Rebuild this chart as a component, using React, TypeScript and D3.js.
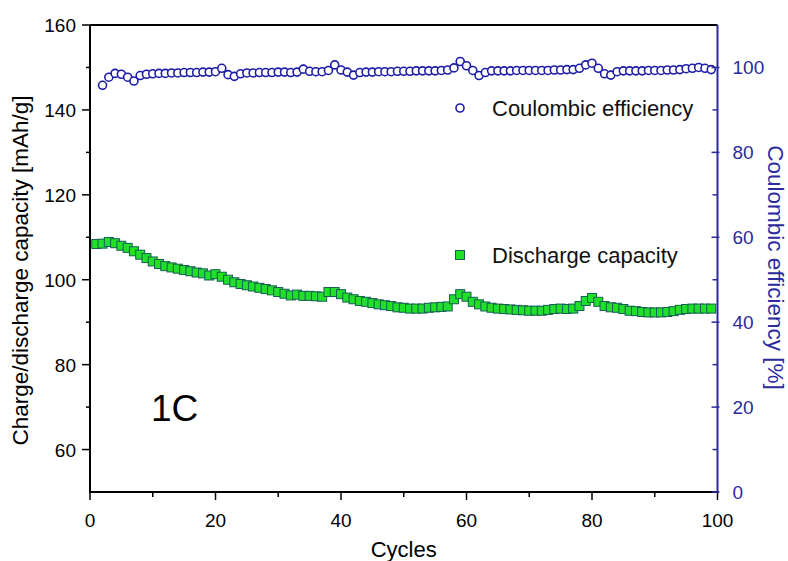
import React from "react";
import * as d3 from "d3";

// Discharge capacity (mAh/g) for cycles 1..99
const capacity: number[] = [
  108.4, 108.5, 108.9, 108.6, 108.0, 107.5, 106.7, 105.9, 105.1, 104.3,
  103.7, 103.2, 102.9, 102.6, 102.3, 102.0, 101.7, 101.5, 101.0, 101.3,
  100.7, 100.0, 99.4, 99.0, 98.7, 98.4, 98.1, 97.8, 97.5, 97.1,
  96.7, 96.3, 96.5, 96.2, 96.2, 96.1, 96.0, 97.1, 97.1, 96.6,
  95.8, 95.4, 95.0, 94.8, 94.5, 94.2, 94.0, 93.8, 93.5, 93.4,
  93.2, 93.2, 93.2, 93.4, 93.5, 93.6, 93.7, 95.4, 96.6, 96.0,
  94.8, 94.2, 93.7, 93.4, 93.2, 93.1, 93.0, 92.9, 92.8, 92.7,
  92.7, 92.7, 92.9, 93.1, 93.2, 93.1, 93.2, 93.8, 95.0, 95.7,
  94.8, 93.8, 93.5, 93.4, 93.1, 92.7, 92.6, 92.4, 92.3, 92.3,
  92.3, 92.4, 92.6, 92.9, 93.1, 93.2, 93.2, 93.2, 93.2,
];

// Coulombic efficiency (%) for cycles 2..99
const efficiency: number[] = [
  95.8, 97.7, 98.6, 98.4, 97.7, 96.8, 98.1, 98.4, 98.5,
  98.6, 98.6, 98.7, 98.7, 98.8, 98.8, 98.8, 98.9, 98.9, 99.0,
  99.8, 98.3, 97.9, 98.5, 98.7, 98.7, 98.8, 98.8, 98.8, 98.9,
  98.9, 98.8, 98.9, 99.6, 99.1, 99.0, 99.0, 99.3, 100.6, 99.4,
  98.9, 98.2, 98.8, 98.9, 98.9, 99.0, 99.0, 99.0, 99.1, 99.1,
  99.1, 99.2, 99.2, 99.2, 99.2, 99.3, 99.4, 99.9, 101.4, 100.4,
  99.3, 98.1, 98.8, 99.2, 99.2, 99.2, 99.2, 99.3, 99.3, 99.3,
  99.3, 99.3, 99.3, 99.4, 99.4, 99.5, 99.5, 99.8, 100.6, 101.0,
  99.8, 98.5, 98.2, 99.0, 99.2, 99.2, 99.2, 99.2, 99.3, 99.3,
  99.3, 99.4, 99.4, 99.5, 99.7, 99.8, 100.0, 99.8, 99.5,
];

const capacityStartCycle = 1;
const efficiencyStartCycle = 2;

const xTicks = [0, 20, 40, 60, 80, 100];
const leftTicks = [60, 80, 100, 120, 140, 160];
const rightTicks = [0, 20, 40, 60, 80, 100];

const W = 788;
const H = 561;
const plot = { left: 90, right: 717.5, top: 25, bottom: 492 };

const FONT = "'Liberation Sans', Arial, sans-serif";
const BLUE = "#2b2b9e";
const MARK_BLUE = "#1c1ca8";
const GREEN = "#22e02a";
const GREEN_EDGE = "#135e55";

export default function App() {
  const x = d3.scaleLinear().domain([0, 100]).range([plot.left, plot.right]);
  const yL = d3.scaleLinear().domain([50, 160]).range([plot.bottom, plot.top]);
  const yR = d3.scaleLinear().domain([0, 110]).range([plot.bottom, plot.top]);

  const xMinor = d3.range(10, 100, 20);
  const leftMinor = d3.range(70, 160, 20);
  const rightMinor = d3.range(10, 110, 20);

  const sq = 9;
  const cr = 4;

  return (
    <svg
      width={W}
      height={H}
      style={{ position: "absolute", left: 0, top: 0, background: "#fff" }}
      fontFamily={FONT}
    >
      <rect x={0} y={0} width={W} height={H} fill="#fff" />

      {/* Discharge capacity markers */}
      <g>
        {capacity.map((v, i) => (
          <rect
            key={"c" + i}
            x={x(i + capacityStartCycle) - sq / 2}
            y={yL(v) - sq / 2}
            width={sq}
            height={sq}
            fill={GREEN}
            stroke={GREEN_EDGE}
            strokeWidth={1}
          />
        ))}
      </g>

      {/* Coulombic efficiency markers */}
      <g>
        {efficiency.map((v, i) => (
          <circle
            key={"e" + i}
            cx={x(i + efficiencyStartCycle)}
            cy={yR(v)}
            r={cr}
            fill="#fff"
            stroke={MARK_BLUE}
            strokeWidth={1.6}
          />
        ))}
      </g>

      {/* Frame: top, left, bottom in black; right axis in blue */}
      <line x1={plot.left} x2={plot.right} y1={plot.top} y2={plot.top} stroke="#000" strokeWidth={2} />
      <line x1={plot.left} x2={plot.left} y1={plot.top} y2={plot.bottom} stroke="#000" strokeWidth={2} />
      <line x1={plot.left - 1} x2={plot.right} y1={plot.bottom} y2={plot.bottom} stroke="#000" strokeWidth={2} />
      <line x1={plot.right} x2={plot.right} y1={plot.top} y2={plot.bottom + 1} stroke={BLUE} strokeWidth={2} />

      {/* Bottom axis ticks and labels */}
      <g>
        {xTicks.map((t) => (
          <g key={"xt" + t}>
            <line x1={x(t)} x2={x(t)} y1={plot.bottom} y2={plot.bottom + 8} stroke="#000" strokeWidth={1.5} />
            <text x={x(t)} y={plot.bottom + 35} textAnchor="middle" fontSize={19} fill="#000">
              {t}
            </text>
          </g>
        ))}
        {xMinor.map((t) => (
          <line key={"xm" + t} x1={x(t)} x2={x(t)} y1={plot.bottom} y2={plot.bottom + 5} stroke="#000" strokeWidth={1.5} />
        ))}
      </g>

      {/* Left axis ticks and labels */}
      <g>
        {leftTicks.map((t) => (
          <g key={"lt" + t}>
            <line x1={plot.left - 8} x2={plot.left} y1={yL(t)} y2={yL(t)} stroke="#000" strokeWidth={1.5} />
            <text x={plot.left - 14} y={yL(t) + 7} textAnchor="end" fontSize={19} fill="#000">
              {t}
            </text>
          </g>
        ))}
        {leftMinor.map((t) => (
          <line key={"lm" + t} x1={plot.left - 4} x2={plot.left} y1={yL(t)} y2={yL(t)} stroke="#000" strokeWidth={1.5} />
        ))}
      </g>

      {/* Right axis ticks and labels */}
      <g>
        {rightTicks.map((t) => (
          <g key={"rt" + t}>
            <line x1={plot.right - 6} x2={plot.right + 2} y1={yR(t)} y2={yR(t)} stroke={BLUE} strokeWidth={1.5} />
            <text x={plot.right + 15} y={yR(t) + 7} textAnchor="start" fontSize={19} fill={BLUE}>
              {t}
            </text>
          </g>
        ))}
        {rightMinor.map((t) => (
          <line key={"rm" + t} x1={plot.right - 5} x2={plot.right} y1={yR(t)} y2={yR(t)} stroke={BLUE} strokeWidth={1.5} />
        ))}
      </g>

      {/* Axis titles */}
      <text x={(plot.left + plot.right) / 2} y={557} textAnchor="middle" fontSize={22} fill="#000">
        Cycles
      </text>
      <text
        transform={`translate(28, ${(plot.top + plot.bottom) / 2 + 12}) rotate(-90)`}
        textAnchor="middle"
        fontSize={22.5}
        fill="#000"
      >
        Charge/discharge capacity [mAh/g]
      </text>
      <text
        transform={`translate(768, ${(plot.top + plot.bottom) / 2 + 9}) rotate(90)`}
        textAnchor="middle"
        fontSize={22.5}
        fill={BLUE}
      >
        Coulombic efficiency [%]
      </text>

      {/* Legend entries */}
      <circle cx={460} cy={108} r={cr} fill="#fff" stroke={MARK_BLUE} strokeWidth={1.6} />
      <text x={492} y={116} fontSize={22} fill="#111">
        Coulombic efficiency
      </text>
      <rect x={460 - sq / 2} y={255 - sq / 2} width={sq} height={sq} fill={GREEN} stroke={GREEN_EDGE} strokeWidth={1} />
      <text x={492} y={263} fontSize={22} fill="#111">
        Discharge capacity
      </text>

      {/* Rate annotation */}
      <text x={151} y={421} fontSize={37} fill="#000">
        1C
      </text>
    </svg>
  );
}
